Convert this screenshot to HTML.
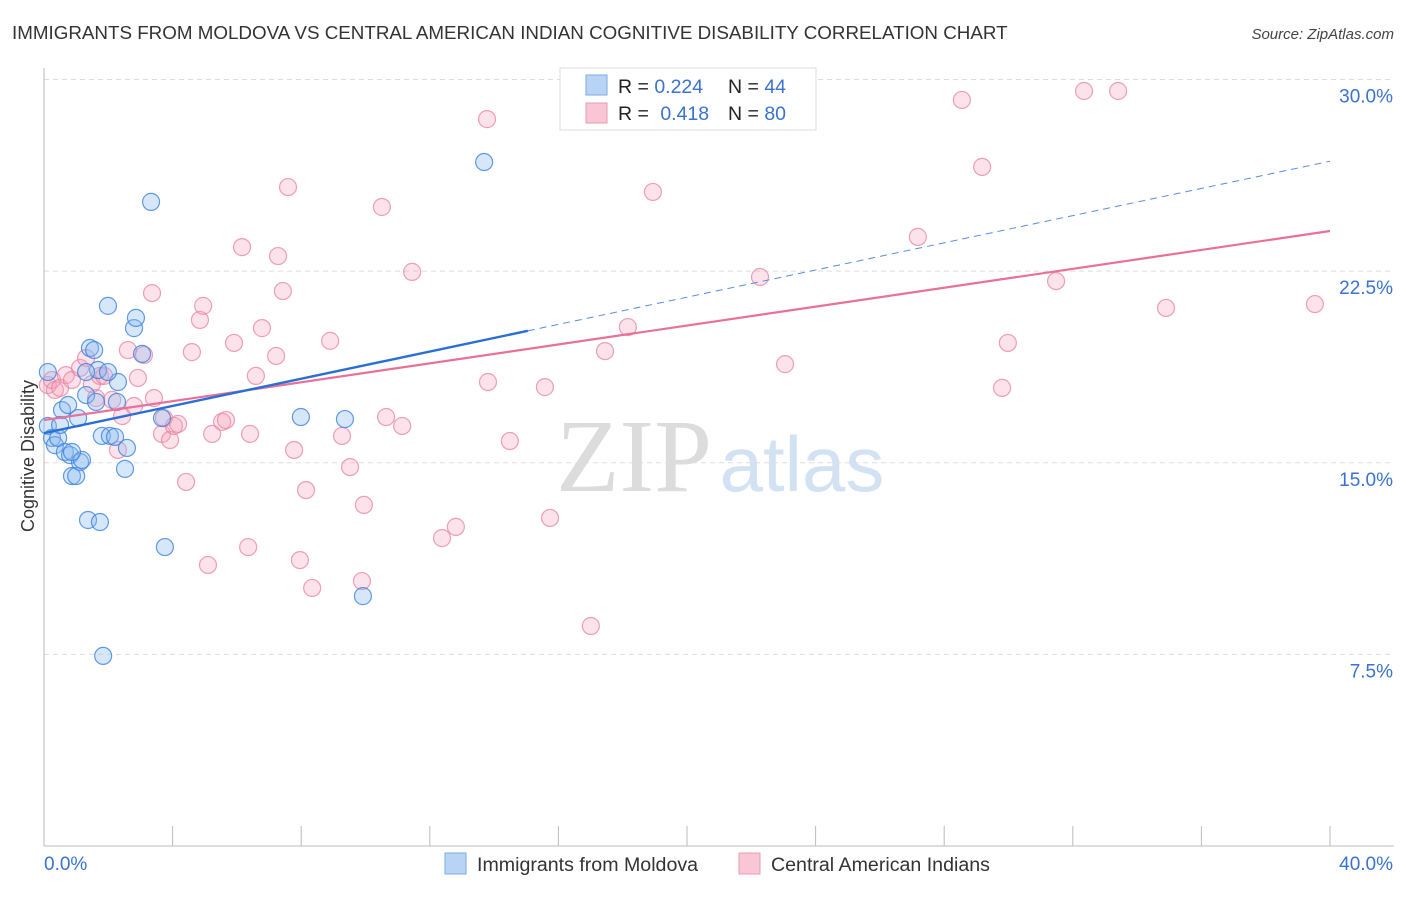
<!DOCTYPE html>
<html><head><meta charset="utf-8"><style>
html,body{margin:0;padding:0;background:#fff;}
body{width:1406px;height:892px;overflow:hidden;font-family:"Liberation Sans",sans-serif;}
svg text{font-family:"Liberation Sans",sans-serif;}
</style></head><body>
<svg id="chart" width="1406" height="892">
<text x="12" y="39" font-size="18.8" fill="#333">IMMIGRANTS FROM MOLDOVA VS CENTRAL AMERICAN INDIAN COGNITIVE DISABILITY CORRELATION CHART</text>
<text x="1394" y="39" font-size="15" fill="#444" font-style="italic" text-anchor="end">Source: ZipAtlas.com</text>
<g>
<text x="634" y="491" font-size="104" fill="#dcdcdc" text-anchor="middle" style="font-family:'Liberation Serif',serif">ZIP</text>
<text x="802" y="491" font-size="78" fill="#d3e2f3" text-anchor="middle">atlas</text>
</g>
<g id="grid"></g>
<g id="axes"></g>
<g id="points"></g>
<g id="trends"></g>
<text transform="translate(34,456) rotate(-90)" font-size="18" fill="#333" text-anchor="middle">Cognitive Disability</text>
<g>
<rect x="560" y="68" width="256" height="62" fill="#fff" stroke="#ddd"/>
<rect x="586" y="75" width="21" height="20" fill="#b9d3f4" stroke="#7aaae6"/>
<rect x="586" y="103" width="21" height="20" fill="#f8c6d5" stroke="#ec9ab3"/>
<text x="618" y="93" font-size="19.5" fill="#222">R = <tspan fill="#3a72d0">0.224</tspan></text>
<text x="728" y="93" font-size="19.5" fill="#222">N = <tspan fill="#3a72d0">44</tspan></text>
<text x="618" y="120" font-size="19.5" fill="#222">R = <tspan fill="#3a72d0" dx="6">0.418</tspan></text>
<text x="728" y="120" font-size="19.5" fill="#222">N = <tspan fill="#3a72d0">80</tspan></text>
</g>
<g>
<rect x="445" y="853" width="21" height="21" fill="#b9d3f4" stroke="#7aaae6"/>
<text x="477" y="871" font-size="19.6" fill="#333">Immigrants from Moldova</text>
<rect x="739" y="853" width="21" height="21" fill="#f8c6d5" stroke="#ec9ab3"/>
<text x="771" y="871" font-size="19.6" fill="#333">Central American Indians</text>
</g>
</svg>
<script>
const yTicks=[7.5,15,22.5,30];
const yTickLabels=["7.5%","15.0%","22.5%","30.0%"];
const xTickLabels=["0.0%","40.0%"];
const blueX=[0.12,0.12,0.25,0.34,0.44,0.56,0.5,0.65,0.75,0.81,0.87,1.0,1.06,1.12,1.18,1.37,1.31,1.43,1.56,1.62,1.68,1.74,1.8,1.84,1.99,2.05,2.21,2.27,2.3,2.52,2.58,2.8,2.86,3.05,3.33,3.67,3.76,7.99,9.36,9.92,13.69,1.31,0.87,1.99];
const blueY=[18.55,16.44,15.97,15.69,15.97,17.06,16.48,15.42,17.26,15.3,14.48,14.48,16.75,15.03,15.11,12.76,17.65,19.49,19.41,17.38,18.63,12.68,16.05,7.44,21.14,16.05,16.01,17.38,18.16,14.76,15.58,20.27,20.67,19.26,25.21,16.75,11.7,16.79,16.71,9.78,26.77,18.55,15.42,18.55];
const pinkX=[0.12,0.25,0.34,0.5,0.68,0.87,1.12,1.31,1.49,1.62,1.74,1.87,2.12,2.3,2.43,2.61,2.8,2.92,3.11,3.36,3.42,3.67,3.73,3.92,4.04,4.17,4.42,4.6,4.85,4.95,5.1,5.23,5.54,5.66,5.91,6.16,6.35,6.41,6.59,6.78,7.22,7.28,7.43,7.59,7.78,7.96,8.15,8.34,8.9,9.27,9.52,9.89,9.95,10.51,10.64,11.14,11.45,12.38,12.81,13.78,13.81,14.49,15.58,15.74,17.01,17.45,18.16,18.94,22.27,23.05,27.18,28.55,29.18,29.8,29.98,31.48,32.35,33.41,34.9,39.53];
const pinkY=[18.04,18.24,17.85,17.93,18.43,18.24,18.71,19.1,18.08,17.53,18.4,18.4,17.46,15.5,16.83,19.41,17.22,18.32,19.22,21.64,17.53,16.13,16.75,15.89,16.44,16.52,14.25,19.33,20.59,21.14,11.0,16.13,16.6,16.67,19.69,23.44,11.7,16.13,18.4,20.27,19.18,23.09,21.72,25.79,15.5,11.19,13.93,10.1,19.77,16.05,14.83,10.37,13.35,25.01,16.79,16.44,22.47,12.05,12.49,28.45,18.16,15.85,17.96,12.84,8.61,19.37,20.31,25.6,22.27,18.86,23.84,29.2,26.58,17.93,19.69,22.11,29.55,29.55,21.06,21.21];
const blueTrend=[16.16,26.8];
const blueSolidEnd=15.05;
const pinkTrend=[16.67,24.07];

const NS="http://www.w3.org/2000/svg";
const X0=44,X1=1330,Y0=846,PPY=25.55;
const sx=v=>X0+(X1-X0)*v/40;
const sy=v=>Y0-v*PPY;
function mk(tag,attrs,parent){const e=document.createElementNS(NS,tag);for(const k in attrs)e.setAttribute(k,attrs[k]);parent.appendChild(e);return e;}
const grid=document.getElementById('grid'),axes=document.getElementById('axes'),pts=document.getElementById('points'),tr=document.getElementById('trends');
yTicks.forEach((t,i)=>{
  const l=mk('line',{x1:X0,x2:1394,y1:sy(t),y2:sy(t),stroke:'#ddd','stroke-dasharray':'5,4'},grid);
  
  
  const tx=mk('text',{x:1393,y:sy(t)+23,'font-size':19,fill:'#3a72d0','text-anchor':'end'},axes);
  tx.textContent=yTickLabels[i];
  
  
});
const ax=mk('line',{x1:X0,x2:1394,y1:Y0,y2:Y0,stroke:'#bbb'},axes);


const ay=mk('line',{x1:X0,x2:X0,y1:68,y2:Y0,stroke:'#bbb'},axes);


for(let i=0;i<=10;i++){
  const t=mk('line',{x1:sx(i*4),x2:sx(i*4),y1:826,y2:Y0,stroke:'#bbb'},axes);
  
  
}
[[0,'start',44],[40,'end',1393]].forEach((d,i)=>{
  const tx=mk('text',{x:d[2],y:870,'font-size':19,fill:'#3a72d0','text-anchor':d[1]},axes);
  tx.textContent=xTickLabels[i];
  
  
});
pinkX.forEach((x,i)=>{
  const c=mk('circle',{cx:sx(x),cy:sy(pinkY[i]),r:8.5,fill:'rgba(244,160,186,0.3)',stroke:'rgba(232,130,162,0.75)','stroke-width':1.2},pts);
  
  
});
blueX.forEach((x,i)=>{
  const c=mk('circle',{cx:sx(x),cy:sy(blueY[i]),r:8.5,fill:'rgba(140,185,240,0.35)',stroke:'rgba(60,130,220,0.8)','stroke-width':1.2},pts);
  
  
});
const by=x=>blueTrend[0]+(blueTrend[1]-blueTrend[0])*x/40;
const bd=mk('line',{x1:sx(blueSolidEnd),y1:sy(by(blueSolidEnd)),x2:sx(40),y2:sy(blueTrend[1]),stroke:'#5a8ddb','stroke-width':1,'stroke-dasharray':'7,5'},tr);


const pl=mk('line',{x1:sx(0),y1:sy(pinkTrend[0]),x2:sx(40),y2:sy(pinkTrend[1]),stroke:'#e8709a','stroke-width':2.2},tr);


const bl=mk('line',{x1:sx(0),y1:sy(blueTrend[0]),x2:sx(blueSolidEnd),y2:sy(by(blueSolidEnd)),stroke:'#2a6fd6','stroke-width':2.4},tr);


</script>
</body></html>
